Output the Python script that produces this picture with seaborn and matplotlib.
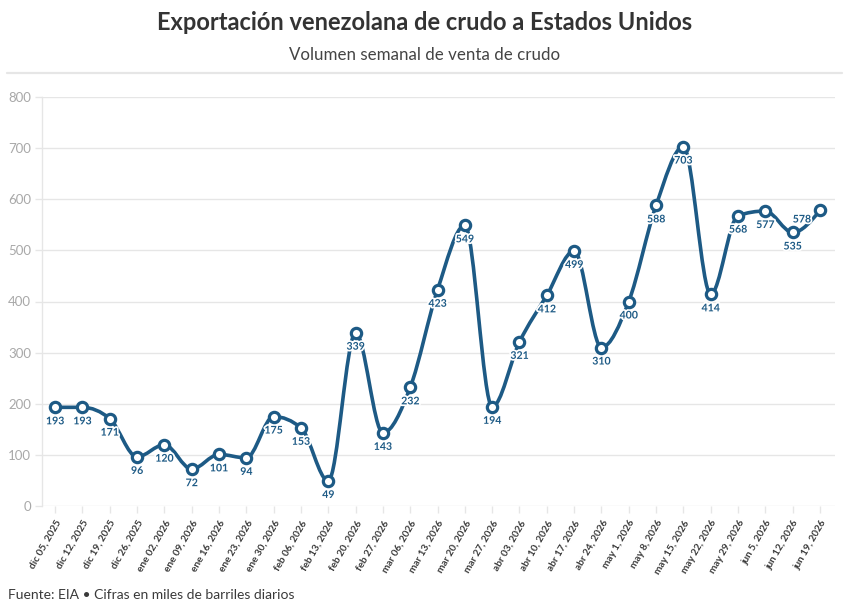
import numpy as np
import pandas as pd
import matplotlib
matplotlib.use("Agg")
import matplotlib.pyplot as plt
import seaborn as sns
from matplotlib.path import Path
from matplotlib.patches import PathPatch
import matplotlib.patheffects as pe

weeks = ["dic 05, 2025", "dic 12, 2025", "dic 19, 2025", "dic 26, 2025",
         "ene 02, 2026", "ene 09, 2026", "ene 16, 2026", "ene 23, 2026", "ene 30, 2026",
         "feb 06, 2026", "feb 13, 2026", "feb 20, 2026", "feb 27, 2026",
         "mar 06, 2026", "mar 13, 2026", "mar 20, 2026", "mar 27, 2026",
         "abr 03, 2026", "abr 10, 2026", "abr 17, 2026", "abr 24, 2026",
         "may 1, 2026", "may 8, 2026", "may 15, 2026", "may 22, 2026", "may 29, 2026",
         "jun 5, 2026", "jun 12, 2026", "jun 19, 2026"]
volumes = [193, 193, 171, 96, 120, 72, 101, 94, 175, 153, 49, 339, 143, 232, 423, 549,
           194, 321, 412, 499, 310, 400, 588, 703, 414, 568, 577, 535, 578]
y_ticks = [0, 100, 200, 300, 400, 500, 600, 700, 800]

title = "Exportación venezolana de crudo a Estados Unidos"
subtitle = "Volumen semanal de venta de crudo"
footer = "Fuente: EIA • Cifras en miles de barriles diarios"

BLUE = "#1d5a85"
FONT = ["Lato", "DejaVu Sans"]

sns.set_theme(style="white")
plt.rcParams["font.family"] = FONT

df = pd.DataFrame({"semana": weeks, "volumen": volumes, "pos": np.arange(len(weeks))})

fig = plt.figure(figsize=(8.5, 6.13), dpi=100)
ax = fig.add_axes([42 / 850, 1 - 506 / 613, (835 - 42) / 850, (506 - 97) / 613])


def monotone_path(x, y):
    x = np.asarray(x, float)
    y = np.asarray(y, float)
    n = len(x)
    h = np.diff(x)
    s = np.diff(y) / h
    t = np.zeros(n)
    for i in range(1, n - 1):
        p = (s[i - 1] * h[i] + s[i] * h[i - 1]) / (h[i - 1] + h[i])
        t[i] = (np.sign(s[i - 1]) + np.sign(s[i])) * min(abs(s[i - 1]), abs(s[i]), 0.5 * abs(p))
    t[0] = (3 * s[0] - t[1]) / 2
    t[-1] = (3 * s[-1] - t[-2]) / 2
    verts = [(x[0], y[0])]
    codes = [Path.MOVETO]
    for i in range(n - 1):
        dx = (x[i + 1] - x[i]) / 3
        verts += [(x[i] + dx, y[i] + dx * t[i]),
                  (x[i + 1] - dx, y[i + 1] - dx * t[i + 1]),
                  (x[i + 1], y[i + 1])]
        codes += [Path.CURVE4] * 3
    return Path(verts, codes)


ax.add_patch(PathPatch(monotone_path(df["pos"], df["volumen"]), facecolor="none",
                       edgecolor=BLUE, lw=2.6, zorder=3, capstyle="round", joinstyle="round"))

# labels (drawn before markers so markers sit on top)
for i, (xv, yv) in enumerate(zip(df["pos"], df["volumen"])):
    if i == len(df) - 1:
        off, ha = (-9, -3), "right"
    else:
        off, ha = (0, -8), "center"
    ax.annotate(str(yv), (xv, yv), xytext=off, textcoords="offset pixels",
                ha=ha, va="top", fontsize=7.6, fontweight="bold", color=BLUE, zorder=4,
                path_effects=[pe.withStroke(linewidth=2.5, foreground="white")])

sns.scatterplot(data=df, x="pos", y="volumen", ax=ax, s=55, color="white",
                edgecolor=BLUE, linewidth=2.3, zorder=5, legend=False)

ax.set_xlim(-0.48, len(weeks) - 1 + 0.55)
ax.set_ylim(0, 800)
ax.set_yticks(y_ticks)
ax.set_yticklabels([str(v) for v in y_ticks], fontsize=9.5, color="#a8a8a8")
ax.set_xticks(df["pos"])
ax.set_xticklabels(weeks, rotation=60, ha="right", rotation_mode="anchor",
                   fontsize=7.2, fontweight="bold", color="#3a3a3a")
ax.set_xlabel("")
ax.set_ylabel("")
ax.grid(axis="y", color="#e6e6e6", lw=1)
ax.set_axisbelow(True)
for side in ["top", "right", "bottom"]:
    ax.spines[side].set_visible(False)
ax.spines["left"].set_color("#e6e6e6")
ax.spines["left"].set_linewidth(1)
ax.tick_params(axis="y", length=5, color="#e6e6e6", width=1, pad=3, left=True)
ax.tick_params(axis="x", length=5, color="#e6e6e6", width=1, pad=4, bottom=True)

fig.text(0.5, 1 - 22 / 613, title, ha="center", va="center", fontsize=17,
         fontweight="bold", color="#333333")
fig.text(0.5, 1 - 55 / 613, subtitle, ha="center", va="center", fontsize=12.2, color="#444444")
fig.add_artist(plt.Line2D([7 / 850, 842 / 850], [1 - 73 / 613, 1 - 73 / 613],
                          color="#e6e6e6", lw=1.6))
fig.text(8 / 850, 1 - 595 / 613, footer, ha="left", va="center", fontsize=10, color="#3a3a3a")

fig.savefig("out.png", dpi=100, facecolor="white")
